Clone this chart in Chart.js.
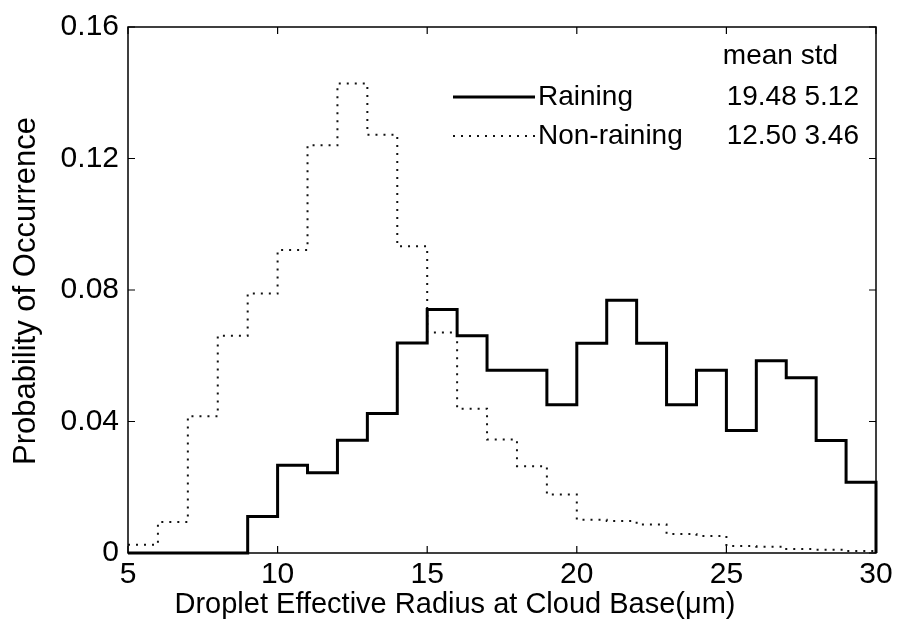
<!DOCTYPE html>
<html>
<head>
<meta charset="utf-8">
<script src="https://cdn.jsdelivr.net/npm/chart.js@4.4.1/dist/chart.umd.min.js"></script>
<style>
  html, body { margin: 0; padding: 0; background: #fff; }
  canvas { display: block; }
</style>
</head>
<body>
<canvas id="chart" width="898" height="631"></canvas>
<script>
// =========================
// Data
// =========================
const binEdges = [5, 6, 7, 8, 9, 10, 11, 12, 13, 14, 15, 16, 17, 18, 19, 20, 21, 22, 23, 24, 25, 26, 27, 28, 29, 30];

const raining = [0, 0, 0, 0, 0.0111, 0.0267, 0.0244, 0.0343, 0.0424, 0.0639, 0.0741, 0.0661, 0.0556,
    0.0556, 0.0451, 0.0638, 0.0769, 0.0638, 0.0451, 0.0556, 0.0373, 0.0585, 0.0533, 0.0342, 0.0215];

const nonRaining = [0.0025, 0.0094, 0.0416, 0.0661, 0.0789, 0.0922, 0.1240, 0.1428, 0.1272, 0.0933,
    0.0671, 0.0439, 0.0345, 0.0264, 0.0178, 0.0101, 0.0097, 0.0087, 0.0058, 0.0052, 0.0021, 0.0019,
    0.0012, 0.0010, 0.0006];

const xTicks = [5, 10, 15, 20, 25, 30];
const yTicks = [0, 0.04, 0.08, 0.12, 0.16];

const seriesNames = ["Raining", "Non-raining"];
const seriesMean = ["19.48", "12.50"];
const seriesStd = ["5.12", "3.46"];

const xTitle = "Droplet Effective Radius at Cloud Base(\u03bcm)";
const yTitle = "Probability of Occurrence";

const FONT = "Arial, 'Liberation Sans', Helvetica, sans-serif";

// histogram steps: one point per left bin edge, closing point on the last edge
function toSteps(values){
    return binEdges.map((x, i) => ({ x: x, y: i < values.length ? values[i] : 0 }));
}

// =========================
// Frame, inward ticks, titles, legend
// =========================
const matlabLook = {
    id: "matlabLook",
    afterDraw(chart){
        const ctx = chart.ctx;
        const a = chart.chartArea;
        const xs = chart.scales.x;
        const ys = chart.scales.y;
        const tick = 7;

        ctx.save();
        ctx.strokeStyle = "#000";
        ctx.lineWidth = 1.5;
        ctx.strokeRect(a.left, a.top, a.right - a.left, a.bottom - a.top);

        ctx.lineWidth = 1.2;
        ctx.beginPath();
        xTicks.forEach(v => {
            const px = xs.getPixelForValue(v);
            ctx.moveTo(px, a.bottom); ctx.lineTo(px, a.bottom - tick);
            ctx.moveTo(px, a.top); ctx.lineTo(px, a.top + tick);
        });
        yTicks.forEach(v => {
            const py = ys.getPixelForValue(v);
            ctx.moveTo(a.left, py); ctx.lineTo(a.left + tick, py);
            ctx.moveTo(a.right, py); ctx.lineTo(a.right - tick, py);
        });
        ctx.stroke();

        // axis titles
        ctx.fillStyle = "#000";
        ctx.textBaseline = "alphabetic";
        ctx.textAlign = "center";
        ctx.font = "29px " + FONT;
        ctx.fillText(xTitle, 455, 613);

        ctx.save();
        ctx.translate(35, 291);
        ctx.rotate(-Math.PI / 2);
        ctx.font = "31px " + FONT;
        ctx.fillText(yTitle, 0, 0);
        ctx.restore();

        // legend
        ctx.font = "28px " + FONT;
        ctx.textBaseline = "middle";
        ctx.textAlign = "right";
        ctx.fillText("mean std", 838, 56);

        const rowY = [97, 136];
        chart.data.datasets.forEach((ds, i) => {
            ctx.save();
            ctx.strokeStyle = ds.borderColor;
            ctx.lineWidth = ds.borderWidth;
            ctx.setLineDash(ds.borderDash || []);
            ctx.beginPath();
            ctx.moveTo(453, rowY[i]);
            ctx.lineTo(535, rowY[i]);
            ctx.stroke();
            ctx.restore();

            ctx.textAlign = "left";
            ctx.fillText(seriesNames[i], 538, rowY[i]);
            ctx.textAlign = "right";
            ctx.fillText(seriesMean[i] + " " + seriesStd[i], 859, rowY[i]);
        });

        ctx.restore();
    }
};

// =========================
// Chart
// =========================
new Chart(document.getElementById("chart"), {

    type: "line",

    data: {
        datasets: [
            {
                label: seriesNames[0],
                data: toSteps(raining),
                borderColor: "#000",
                borderWidth: 3,
                stepped: "before",
                pointRadius: 0,
                fill: false,
                clip: false
            },
            {
                label: seriesNames[1],
                data: toSteps(nonRaining),
                borderColor: "#111",
                borderWidth: 2,
                borderDash: [2, 6],
                stepped: "before",
                pointRadius: 0,
                fill: false,
                clip: false
            }
        ]
    },

    options: {
        responsive: false,
        animation: false,
        devicePixelRatio: 1,
        layout: {
            padding: { top: 20, right: 22, left: 0, bottom: 0 }
        },
        plugins: {
            legend: { display: false },
            tooltip: { enabled: false }
        },
        scales: {
            x: {
                type: "linear",
                min: 5,
                max: 30,
                afterBuildTicks: s => { s.ticks = xTicks.map(v => ({ value: v })); },
                afterFit: s => { s.height = 78; },
                grid: { display: false, drawTicks: false },
                border: { display: false },
                ticks: {
                    color: "#000",
                    padding: 4,
                    maxRotation: 0,
                    autoSkip: false,
                    font: { family: FONT, size: 30 },
                    callback: v => String(v)
                }
            },
            y: {
                type: "linear",
                min: 0,
                max: 0.16,
                afterBuildTicks: s => { s.ticks = yTicks.map(v => ({ value: v })); },
                afterFit: s => { s.width = 128; },
                grid: { display: false, drawTicks: false },
                border: { display: false },
                ticks: {
                    color: "#000",
                    padding: 9,
                    autoSkip: false,
                    font: { family: FONT, size: 30 },
                    callback: v => (v === 0 ? "0" : v.toFixed(2))
                }
            }
        }
    },

    plugins: [matlabLook]
});
</script>
</body>
</html>
